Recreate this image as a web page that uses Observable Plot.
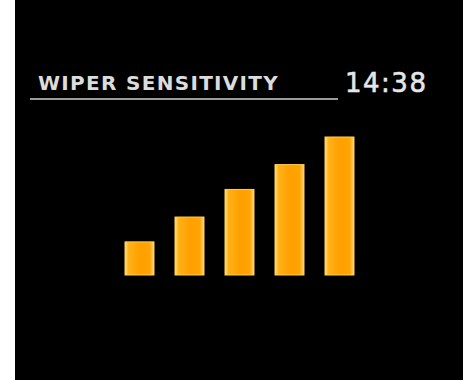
<!DOCTYPE html>
<html>
<head>
<meta charset="utf-8">
<script src="https://cdn.jsdelivr.net/npm/d3@7"></script>
<script src="https://cdn.jsdelivr.net/npm/@observablehq/plot@0.6"></script>
<style>
  html, body { margin: 0; padding: 0; background: #ffffff; }
  #screen { position: absolute; left: 15px; top: 0; width: 448px; height: 380px; background: #000; overflow: hidden; }
  #title { position: absolute; left: 23px; top: 73px; font: bold 20px/20px "DejaVu Sans", sans-serif; letter-spacing: 1.3px; color: #dcdcdc; white-space: nowrap; }
  #clock { position: absolute; left: 330px; top: 70px; font: 26px/26px "DejaVu Sans", sans-serif; letter-spacing: 1.5px; color: #e6e6e6; white-space: nowrap; -webkit-text-stroke: 0.6px #e6e6e6; }
  #rule { position: absolute; left: 15px; top: 98px; width: 308px; height: 2px; background: #9a9a9a; }
  #chart { position: absolute; left: 0; top: 0; }
</style>
</head>
<body>
<div id="screen">
  <div id="title"></div>
  <div id="rule"></div>
  <div id="clock"></div>
  <div id="chart"></div>
</div>
<script>
const titleText = "WIPER SENSITIVITY";
const clockText = "14:38";
const levels = [1, 2, 3, 4, 5];
const heights = [24, 42, 62, 80, 100];

document.getElementById("title").textContent = titleText;
document.getElementById("clock").textContent = clockText;

const data = levels.map((l, i) => ({level: l, value: heights[i]}));

const chart = Plot.plot({
  width: 448,
  height: 380,
  marginLeft: 99,
  marginRight: 99,
  marginTop: 137,
  marginBottom: 105,
  style: {background: "transparent", overflow: "visible"},
  x: {type: "band", domain: levels, paddingInner: 0.42, paddingOuter: 0.21, axis: null},
  y: {domain: [0, 100], axis: null},
  marks: [
    Plot.barY(data, {x: "level", y: "value", fill: "#FFA200", className: "wbar"})
  ]
});
document.getElementById("chart").appendChild(chart);

// gradient styling for bars
const svg = d3.select(chart);
const defs = svg.insert("defs", ":first-child");
const gh = defs.append("linearGradient").attr("id", "barH").attr("x1", "0").attr("x2", "1").attr("y1", "0").attr("y2", "0");
gh.append("stop").attr("offset", "0").attr("stop-color", "#FFE27A");
gh.append("stop").attr("offset", "0.12").attr("stop-color", "#FFB21A");
gh.append("stop").attr("offset", "0.5").attr("stop-color", "#FFA000");
gh.append("stop").attr("offset", "0.85").attr("stop-color", "#FFA400");
gh.append("stop").attr("offset", "1").attr("stop-color", "#FFD67A");
svg.selectAll(".wbar rect").attr("fill", "url(#barH)").attr("stroke", "#FFCF5A").attr("stroke-width", 1);
</script>
</body>
</html>
